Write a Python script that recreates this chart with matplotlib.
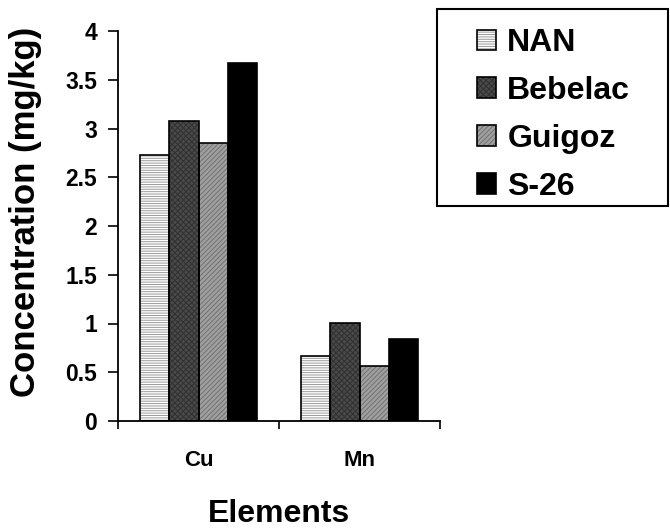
import numpy as np
import matplotlib
matplotlib.use("Agg")
import matplotlib.pyplot as plt
from matplotlib.patches import Rectangle

categories = ["Cu", "Mn"]
series = ["NAN", "Bebelac", "Guigoz", "S-26"]
values = {
    "NAN": [2.73, 0.67],
    "Bebelac": [3.08, 1.01],
    "Guigoz": [2.85, 0.56],
    "S-26": [3.67, 0.84],
}
yticks = [0, 0.5, 1, 1.5, 2, 2.5, 3, 3.5, 4]
ytick_labels = ["0", "0.5", "1", "1.5", "2", "2.5", "3", "3.5", "4"]

styles = {
    "NAN": dict(face="#ffffff", hatch="-------", hcolor="#9a9a9a"),
    "Bebelac": dict(face="#4a4a4a", hatch="xxxxxx", hcolor="#303030"),
    "Guigoz": dict(face="#a0a0a0", hatch="///////", hcolor="#707070"),
    "S-26": dict(face="#000000", hatch=None, hcolor="#000000"),
}

plt.rcParams["font.family"] = ["Liberation Sans", "DejaVu Sans"]
plt.rcParams["font.weight"] = "bold"
plt.rcParams["hatch.linewidth"] = 0.7

fig = plt.figure(figsize=(6.7, 5.31), dpi=100)
ax = fig.add_axes([118 / 670, 1 - 421 / 531, (440 - 118) / 670, (421 - 31) / 531])

x = np.arange(len(categories))
bw = 0.183
handles = []
for i, s in enumerate(series):
    st = styles[s]
    pos = x + (i - 1.5) * bw
    b1 = ax.bar(pos, values[s], bw, color=st["face"], hatch=st["hatch"],
                edgecolor=st["hcolor"], linewidth=0, zorder=2)
    b2 = ax.bar(pos, values[s], bw, fill=False, edgecolor="black",
                linewidth=1.2, zorder=3)
    handles.append((b1.patches[0], b2.patches[0]))

ax.set_xlim(-0.5, 1.5)
ax.set_ylim(0, 4)
ax.set_yticks(yticks)
ax.set_yticklabels(ytick_labels, fontsize=16.5, fontweight="bold")
ax.set_xticks([-0.5, 0.5, 1.5])
ax.set_xticklabels([])
ax.set_xticks(x, minor=True)
ax.set_xticklabels(categories, minor=True, fontsize=16, fontweight="bold")
ax.tick_params(axis="x", which="minor", length=0, pad=21)
ax.tick_params(axis="x", which="major", length=6, width=1.2, direction="out")
ax.tick_params(axis="y", length=7, width=1.2, direction="out", pad=8)
for side in ["top", "right"]:
    ax.spines[side].set_visible(False)
for side in ["left", "bottom"]:
    ax.spines[side].set_linewidth(1.3)

ax.set_ylabel("Concentration (mg/kg)", fontsize=25, fontweight="bold")
ax.yaxis.set_label_coords(-0.235, 0.535)
ax.set_xlabel("Elements", fontsize=23, fontweight="bold", labelpad=20)

fig.patches.append(Rectangle((437 / 670, 1 - 206 / 531), (668 - 437) / 670,
                             (206 - 9) / 531, transform=fig.transFigure,
                             fill=False, edgecolor="black", linewidth=1.5))
leg = fig.legend(handles, series, loc="upper left",
                 bbox_to_anchor=(477 / 670, 1 - 28 / 531), frameon=False,
                 borderpad=0, borderaxespad=0,
                 prop=dict(size=23, weight="bold"),
                 handlelength=0.6, handleheight=0.6, handletextpad=0.35,
                 labelspacing=0.56)

fig.savefig("out.png", dpi=100)
